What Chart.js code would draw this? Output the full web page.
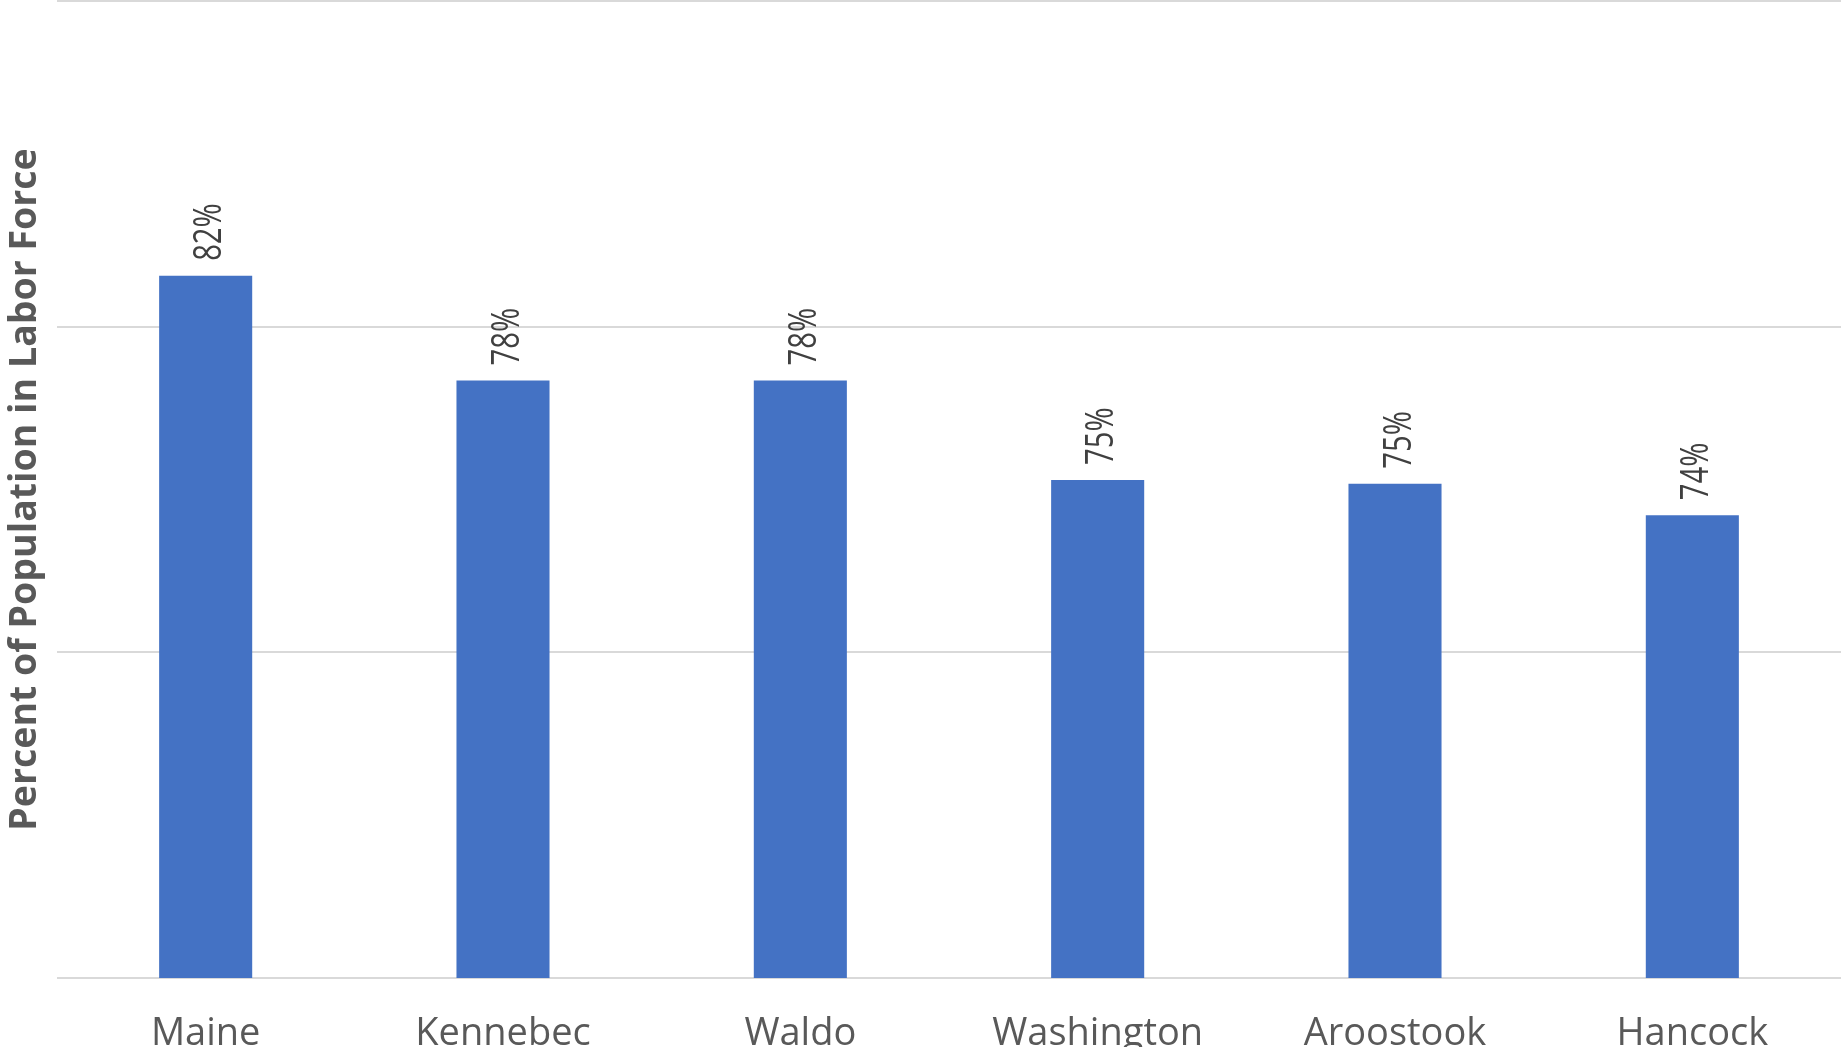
<!DOCTYPE html>
<html>
<head>
<meta charset="utf-8">
<style>
  html, body { margin: 0; padding: 0; background: #fff; overflow: hidden; }
  #wrap { width: 1841px; height: 1047px; }
</style>
</head>
<body>
<div id="wrap"><canvas id="laborChart"></canvas></div>

<script src="https://cdn.jsdelivr.net/npm/chart.js"></script>
<script>
  const counties = ['Maine', 'Kennebec', 'Waldo', 'Washington', 'Aroostook', 'Hancock']
  const laborPct = [81.56, 78.35, 78.35, 75.29, 75.18, 74.21]
  const valueLabels = ['82%', '78%', '78%', '75%', '75%', '74%']
  const yTitle = 'Percent of Population in Labor Force'

  const textGray = '#595959'

  // rotated value labels above each bar
  const barLabels = {
    id: 'barLabels',
    afterDatasetsDraw: (chart) => {
      const {ctx} = chart
      const meta = chart.getDatasetMeta(0)
      ctx.save()
      ctx.fillStyle = '#404040'
      ctx.font = '38px "Open Sans"'
      ctx.textAlign = 'left'
      ctx.textBaseline = 'middle'
      meta.data.forEach((bar, i) => {
        ctx.save()
        ctx.translate(bar.x + 5, bar.y - 15)
        ctx.rotate(-Math.PI / 2)
        ctx.scale(0.77, 1)
        ctx.fillText(valueLabels[i], 0, 0)
        ctx.restore()
      })
      ctx.restore()
    }
  }

  new Chart(document.getElementById('laborChart'), {
    type: 'bar',
    data: {
      labels: counties,
      datasets: [{
        data: laborPct,
        backgroundColor: '#4472C4',
        borderWidth: 0,
        barPercentage: 0.313,
        categoryPercentage: 1
      }]
    },
    options: {
      responsive: true,
      maintainAspectRatio: false,
      animation: false,
      layout: { padding: { top: 1, right: 0, left: 0, bottom: 0 } },
      plugins: {
        legend: { display: false },
        tooltip: { enabled: false }
      },
      scales: {
        x: {
          grid: { display: false, drawTicks: false },
          border: { display: false },
          ticks: {
            color: textGray,
            font: { family: 'Open Sans', size: 38 },
            padding: 33,
            maxRotation: 0
          },
          afterFit: (scale) => { scale.height = 69 }
        },
        y: {
          min: 60,
          max: 90,
          ticks: { display: false, stepSize: 10 },
          grid: { color: '#d9d9d9', lineWidth: 2, drawTicks: false },
          border: { display: false },
          title: {
            display: true,
            text: yTitle,
            color: textGray,
            font: { family: 'Open Sans', size: 37.5, weight: 'bold' },
            padding: { top: 3, bottom: 0 }
          },
          afterFit: (scale) => { scale.width = 57 }
        }
      }
    },
    plugins: [barLabels]
  })
</script>
</body>
</html>
